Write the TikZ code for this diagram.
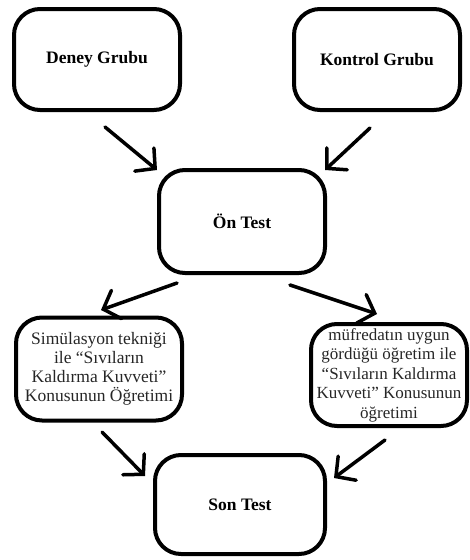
\documentclass[tikz,border=0pt]{standalone}
\usepackage{fontspec}
\setmainfont{Liberation Serif}
\usetikzlibrary{arrows.meta}
\begin{document}
\begin{tikzpicture}[x=1pt,y=-1pt,
  box/.style={draw=black,line width=4pt,rounded corners=26pt,inner sep=0pt,align=center},
  boldlbl/.style={font=\fontsize{17.5}{19}\selectfont\bfseries},
  plainlbl/.style={font=\fontsize{17.5}{19}\selectfont,text=black!85},
  plainsmall/.style={font=\fontsize{17}{19.5}\selectfont,text=black!85},
  arr/.style={line width=3.5pt,line cap=round,-{Straight Barb[length=14pt,width=30pt,line cap=round]}}]
\useasboundingbox (0,0) rectangle (469,560);
\node[box,boldlbl,minimum width=166pt,minimum height=101pt] (deney) at (97,59.5) {Deney Grubu};
\node[box,boldlbl,minimum width=166pt,minimum height=101pt] (kontrol) at (377,59.5) {Kontrol Grubu};
\node[box,boldlbl,minimum width=166pt,minimum height=103pt] (on) at (242,221.5) {Ön Test};
\node[box,plainlbl,minimum width=166pt,minimum height=103pt] (sim) at (99,369) {Simülasyon tekniği\\ile “Sıvıların\\Kaldırma Kuvveti”\\Konusunun Öğretimi};
\node[box,plainsmall,minimum width=156pt,minimum height=102pt] (muf) at (389,375) {müfredatın uygun\\gördüğü öğretim ile\\“Sıvıların Kaldırma\\Kuvveti” Konusunun\\öğretimi};
\node[box,boldlbl,minimum width=170pt,minimum height=99pt] (son) at (240,504.5) {Son Test};
\coordinate (a1s) at (105,127); \coordinate (a1e) at (157,170);
\coordinate (a2s) at (370,128); \coordinate (a2e) at (325,170);
\coordinate (a3s) at (177,283); \coordinate (a3e) at (101,310);
\coordinate (a4s) at (290,285); \coordinate (a4e) at (377,314);
\coordinate (a5s) at (102,432); \coordinate (a5e) at (145,476);
\coordinate (a6s) at (385,440); \coordinate (a6e) at (334,478);
\draw[arr] (a1s) -- (a1e);
\draw[arr] (a2s) -- (a2e);
\draw[arr] (a3s) -- (a3e);
\draw[arr] (a4s) -- (a4e);
\draw[arr] (a5s) -- (a5e);
\draw[arr] (a6s) -- (a6e);
\end{tikzpicture}
\end{document}
